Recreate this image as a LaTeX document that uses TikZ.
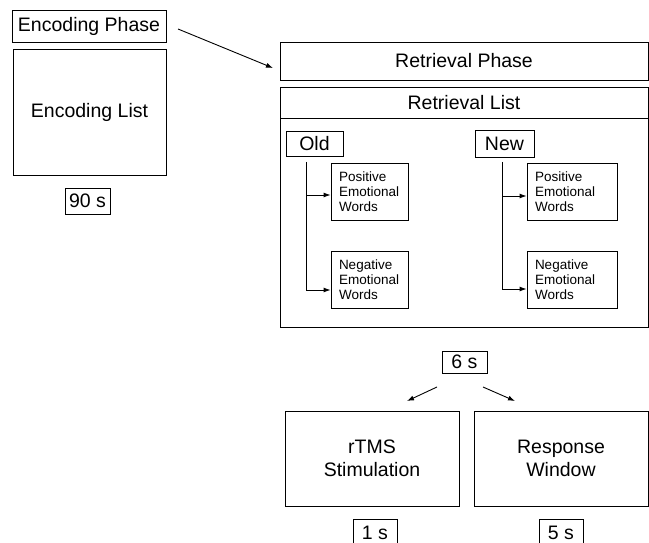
\documentclass[tikz,border=0pt]{standalone}
\usepackage{fontspec}
\setmainfont{Liberation Sans}
\usetikzlibrary{arrows.meta,positioning}

\begin{document}
\begin{tikzpicture}[
    x=1pt, y=-1pt,
    box/.style={draw, line width=0.9pt, inner sep=0pt, align=center, font=\fontsize{19.5}{23.5}\selectfont},
    tbox/.style={box, minimum width=45pt, minimum height=25pt},
    word/.style={draw, line width=0.9pt, inner xsep=8pt, inner ysep=0pt, align=left, minimum height=57pt, font=\fontsize{13.5}{15}\selectfont},
    arr/.style={line width=0.9pt, -{Latex[length=7pt,width=5pt]}},
    line/.style={line width=0.9pt},
  ]
    \useasboundingbox (0,0) rectangle (649,543);

    % encoding side
    \node[box, minimum width=154pt, minimum height=32pt] (encph) at (89,26) {Encoding Phase};
    \node[box, minimum width=153pt, minimum height=126pt] (enclist) at (89.5,112) {Encoding List};
    \node[tbox, minimum height=26pt] (t90) at (87.5,201) {90 s};

    % retrieval side
    \node[box, minimum width=368pt, minimum height=38pt] (retph) at (464,61) {Retrieval Phase};
    \node[box, minimum width=368pt, minimum height=240pt] (retlist) at (464,207) {};
    \node[box, minimum width=368pt, minimum height=31pt] (retlisthd) at (464,102.5) {Retrieval List};

    \node[box, minimum width=57pt, minimum height=25pt] (old) at (314.5,143.5) {Old};
    \node[box, minimum width=59pt, minimum height=27pt] (new) at (504.5,143.5) {New};

    \node[word, text width=61pt] (oldpos) at (369.5,191.5) {Positive\\Emotional\\Words};
    \node[word, text width=61pt] (oldneg) at (369.5,280) {Negative\\Emotional\\Words};
    \node[word, text width=74pt] (newpos) at (572,192) {Positive\\Emotional\\Words};
    \node[word, text width=74pt] (newneg) at (572,280) {Negative\\Emotional\\Words};

    \coordinate (oldtrunk) at (306,162);
    \coordinate (newtrunk) at (502,162);
    \draw[line] (oldtrunk) -- (oldtrunk |- 0,290);
    \draw[arr] (oldtrunk |- 0,195) -- (oldpos.west |- 0,195);
    \draw[arr] (oldtrunk |- 0,290) -- (oldneg.west |- 0,290);
    \draw[line] (newtrunk) -- (newtrunk |- 0,289);
    \draw[arr] (newtrunk |- 0,196) -- (newpos.west |- 0,196);
    \draw[arr] (newtrunk |- 0,289) -- (newneg.west |- 0,289);

    % phase link
    \coordinate (encout) at (178,29);
    \coordinate (retin) at (273,68);
    \draw[arr] (encout) -- (retin);

    % trial timing
    \node[tbox, minimum height=22pt] (t6) at (464.5,362) {6 s};
    \node[box, minimum width=174pt, minimum height=95pt] (rtms) at (372,458.5) {rTMS\\Stimulation};
    \node[box, minimum width=174pt, minimum height=95pt] (resp) at (561,458.5) {Response\\Window};
    \node[tbox, minimum width=44pt, minimum height=28pt] (t1) at (375,533) {1 s};
    \node[tbox, minimum width=44pt, minimum height=28pt] (t5) at (561,533) {5 s};

    \coordinate (splitl) at (437,387);
    \coordinate (splitr) at (483,387);
    \draw[arr] (splitl) -- (407,401);
    \draw[arr] (splitr) -- (515,401);
  \end{tikzpicture}
\end{document}
